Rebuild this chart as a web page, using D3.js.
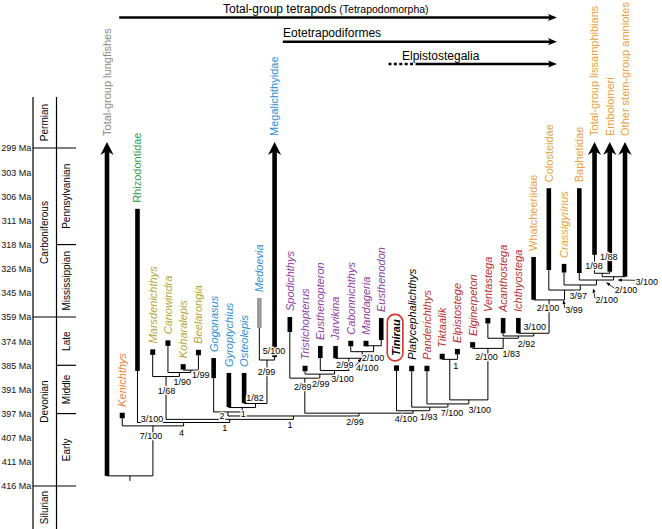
<!DOCTYPE html>
<html>
<head>
<meta charset="utf-8">
<script src="https://cdn.jsdelivr.net/npm/d3@7/dist/d3.min.js"></script>
<style>
html,body{margin:0;padding:0;background:#fff;}
svg{display:block;}
</style>
</head>
<body>
<svg id="chart" width="662" height="529"></svg>
<script>
// ================= DATA =================
const ageTicks = [299,303,306,311,318,326,345,359,374,385,391,397,407,411,416];
const tickLabels = ageTicks.map(a => a + " Ma");

const periodNames = ["Permian","Carboniferous","Devonian","Silurian"];
const periodYoung = [null,299,359,416];
const periodOld   = [299,359,416,null];
const epochNames  = ["Pennsylvanian","Mississippian","Late","Middle","Early"];
const epochYoung  = [299,318,359,385,397];
const epochOld    = [318,359,385,397,416];

const taxonNames = ["Total-group lungfishes","Kenichthys","Rhizodontidae","Marsdenichthys","Canowindra","Koharalepis","Beelarongia","Gogonasus","Gyroptychius","Osteolepis","Medoevia","Megalichthyidae","Spodichthys","Tristichopterus","Eusthenopteron","Jarvikina","Cabonnichthys","Mandageria","Eusthenodon","Tinirau","Platycephalichthys","Panderichthys","Tiktaalik","Elpistostege","Elginerpeton","Ventastega","Acanthostega","Ichthyostega","Whatcheeriidae","Colosteidae","Crassigyrinus","Baphetidae","Total-group lissamphibians","Embolomeri","Other stem-group amniotes"];
const taxonGroup = ["lungfish","basal","rhizodont","canowindrid","canowindrid","canowindrid","canowindrid","osteolepid","osteolepid","osteolepid","osteolepid","osteolepid","tristichopterid","tristichopterid","tristichopterid","tristichopterid","tristichopterid","tristichopterid","tristichopterid","tinirau","plain","elpistostegalian","elpistostegalian","elpistostegalian","elpistostegalian","elpistostegalian","elpistostegalian","elpistostegalian","tetrapod","tetrapod","tetrapod","tetrapod","tetrapod","tetrapod","tetrapod"];
const taxonKind = ["arrow","square","bar","square","square","square","square","bar","bar","bar","grey","arrow","bar","square","bar","bar","square","square","bar","square","square","square","square","square","square","square","bar","bar","bar","bar","bar","bar","arrow","arrow","arrow"];
// youngest / oldest age of each range (Ma); arrows continue beyond 298 Ma
const taxonYoung = [298,397.8,308.6,379.0,374.9,385.4,379.2,381.7,386.9,386.9,348.0,298,359.0,385.8,376.2,376.2,375.1,375.1,359.6,385.7,385.8,385.8,381.0,378.8,375.7,361.3,359.6,359.6,322.1,305.0,324.4,305.0,298,298,298];
const taxonOld   = [413.9,397.8,386.4,379.0,374.9,385.4,379.2,388.2,395.4,394.4,365.8,381.3,368.3,385.8,381.7,381.8,375.1,375.1,373.3,385.7,385.8,385.8,381.0,378.8,375.7,361.3,369.1,369.1,349.0,327.0,329.0,329.4,321.4,328.4,332.3];
const taxonItalic = [0,1,0,1,1,1,1,1,1,1,1,0,1,1,1,1,1,1,1,1,1,1,1,1,1,1,1,1,0,0,1,0,0,0,0];

const nodeIds = ["root","B","C","D","M1","M2","M3","E","F","F2","F3","F4","G","T0","T1","T2","T3","T4","T5","H","H1","H2","H3","P","Q0","Q1","Q2","Q3","Q4","R","S","Ba","Cr","L"];
const nodeChildren = [
  ["Total-group lungfishes","B"],["Kenichthys","C"],["Rhizodontidae","D"],["M1","E"],
  ["Marsdenichthys","M2"],["Canowindra","M3"],["Koharalepis","Beelarongia"],
  ["F","G"],["Gogonasus","F2"],["Gyroptychius","F3"],["Osteolepis","F4"],["Medoevia","Megalichthyidae"],
  ["T0","H"],["Spodichthys","T1"],["Tristichopterus","T2"],["Eusthenopteron","T3"],["Jarvikina","T4"],["Cabonnichthys","T5"],["Mandageria","Eusthenodon"],
  ["Tinirau","H1"],["Platycephalichthys","H2"],["Panderichthys","H3"],["P","Q0"],["Tiktaalik","Elpistostege"],
  ["Elginerpeton","Q1"],["Ventastega","Q2"],["Acanthostega","Q3"],["Ichthyostega","Q4"],["Whatcheeriidae","R"],
  ["Colosteidae","S"],["Crassigyrinus","Ba"],["Baphetidae","Cr"],["L","Other stem-group amniotes"],["Total-group lissamphibians","Embolomeri"]
];
const nodeAge = [413.9,402.1,400.7,399.4,387.8,386.8,386.2,398.0,396.6,395.5,394.5,382.6,396.9,388.2,387.2,386.3,381.8,378.8,376.1,396.3,395.4,394.6,393.6,382.3,377.3,372.2,370.8,369.1,349.1,342.8,338.8,334.9,332.3,329.6];
const nodeSupport = ["","7/100","4","1","1/68","1/90","1/99","1","2","1","1/82","2/99","2/99","2/89","2/99","3/100","2/99","4/100","2/100","4/100","1/93","7/100","3/100","1","2/100","1/83","2/92","3/100","2/100","3/99","3/97","2/100","2/100","3/100"];

const cladeTaxa    = ["Rhizodontidae","Megalichthyidae","Total-group lissamphibians","Embolomeri"];
const cladeSupport = ["3/100","5/100","1/98","1/88"];

const bracketNames = ["Total-group tetrapods","Eotetrapodiformes","Elpistostegalia"];
const bracketSub   = ["(Tetrapodomorpha)","",""];
const bracketFrom  = ["Kenichthys","Spodichthys","Platycephalichthys"];
const bracketDottedFrom = [null,null,"Tinirau"];

// ================= LAYOUT / STYLE =================
const W = 662, H = 529;
const FONT = "'Liberation Sans', Arial, Helvetica, sans-serif";
const groupColor = {
  lungfish:"#8a8a8a", basal:"#e8843c", rhizodont:"#3a9a4c", canowindrid:"#b5a536",
  osteolepid:"#2f8dcf", tristichopterid:"#8c3d9b", tinirau:"#000", plain:"#000",
  elpistostegalian:"#b3322f", tetrapod:"#e6a13d"
};
// support label offsets relative to node (stem x, node y)
const supportOffset = {
  B:[-2,10],C:[-2,10],D:[-5,8.5],M1:[0.5,14],M2:[3,9],M3:[10,5],E:[-3.5,9],F:[-6,3.5],F2:[1,6],F3:[-0.5,-5.5],
  F4:[-0.5,11.5],G:[-4,8.5],T0:[-2,9],T1:[1,10],T2:[8,8],T3:[-4,7],T4:[5,16],T5:[-0.5,12],H:[-7,8],H1:[-1,9.5],
  H2:[4,9],H3:[11,10],P:[6,6],Q0:[-1.5,8],Q1:[8,16],Q2:[8,8],Q3:[1,-6],Q4:[-1,7.5],R:[9.5,20],S:[-2,11],
  Ba:[10.3,20],Cr:[12.4,13.3],L:[44.6,9]
};
const supportArrow = { T4:[-1,7], R:[-1,10.5], Ba:[-3,9], Cr:[-7,6], L:[16.2,6.7] };
const cladeOffset = { "Rhizodontidae":[14.5,-4], "Megalichthyidae":[-0.6,-9], "Total-group lissamphibians":[-0.5,-7], "Embolomeri":[-1,-16] };
const bracketY = [17.5, 41.7, 64];
const bracketStartDx = [-3, -7, 4];
const bracketDotDx = -8;
const bracketTextX = [223, 283, 402];
const bracketTextY = [13, 36.5, 60];
const bracketEnd = 557;

const colTop = 97, colX0 = 33, colX1 = 56.5, colX2 = 76;

// ================= SCALES =================
const svg = d3.select("#chart");
const yPt = d3.scalePoint().domain(ageTicks).range([148, 486]);
const y = d3.scaleLinear().domain(ageTicks).range(ageTicks.map(a => yPt(a)));
const x = d3.scalePoint().domain(taxonNames).range([107, 625]);

svg.append("defs").append("marker")
  .attr("id","ah").attr("viewBox","0 0 10 10").attr("refX",9).attr("refY",5)
  .attr("markerWidth",5).attr("markerHeight",5).attr("orient","auto-start-reverse")
  .append("path").attr("d","M0,1 L10,5 L0,9 Z").attr("fill","#000");

// ================= TIME COLUMN =================
const axisG = svg.append("g").attr("transform",`translate(${colX0},0)`)
  .call(d3.axisLeft(yPt).tickSize(0).tickPadding(1.8).tickFormat((d,i)=>tickLabels[i]));
axisG.select(".domain").remove();
axisG.selectAll("text").attr("font-family",FONT).attr("font-size",9).attr("fill","#111");

const col = svg.append("g").attr("stroke","#000").attr("stroke-width",1.2);
[colX0, colX1].forEach(cx => col.append("line").attr("x1",cx).attr("x2",cx).attr("y1",colTop).attr("y2",H));
[299,359,416].forEach(a => col.append("line").attr("x1",colX0).attr("x2",colX2).attr("y1",y(a)).attr("y2",y(a)));
[318,385,397].forEach(a => col.append("line").attr("x1",colX1).attr("x2",colX2).attr("y1",y(a)).attr("y2",y(a)));

periodNames.forEach((n,i) => {
  const y0 = periodYoung[i] == null ? colTop : y(periodYoung[i]);
  const y1 = periodOld[i] == null ? H : y(periodOld[i]);
  svg.append("text").attr("transform",`translate(${(colX0+colX1)/2+3.5},${(y0+y1)/2}) rotate(-90)`)
    .attr("text-anchor","middle").attr("font-family",FONT).attr("font-size",10).text(n);
});
epochNames.forEach((n,i) => {
  const y0 = y(epochYoung[i]), y1 = y(epochOld[i]);
  svg.append("text").attr("transform",`translate(${(colX1+colX2)/2+3.5},${(y0+y1)/2}) rotate(-90)`)
    .attr("text-anchor","middle").attr("font-family",FONT).attr("font-size",10).text(n);
});

// ================= TREE GEOMETRY =================
const taxonIdx = new Map(taxonNames.map((n,i)=>[n,i]));
const nodes = new Map(nodeIds.map((id,i)=>[id,{id, children:nodeChildren[i], age:nodeAge[i], support:nodeSupport[i]}]));
function posX(name){
  if (taxonIdx.has(name)) return x(name);
  const n = nodes.get(name);
  if (n.x == null){ const xs = n.children.map(posX); n.x = (d3.min(xs)+d3.max(xs))/2; }
  return n.x;
}
function bottomY(name){
  if (taxonIdx.has(name)){
    const i = taxonIdx.get(name);
    return taxonKind[i]==="square" ? y(taxonOld[i]) + 2.75 : y(taxonOld[i]);
  }
  return y(nodes.get(name).age);
}
nodeIds.forEach(posX);

const lines = svg.append("g").attr("stroke","#000").attr("stroke-width",1).attr("fill","none");
nodes.forEach(n => {
  const ny = y(n.age);
  const xs = n.children.map(posX);
  lines.append("line").attr("x1",d3.min(xs)).attr("x2",d3.max(xs)).attr("y1",ny).attr("y2",ny);
  n.children.forEach(c => {
    const cx = posX(c), by = bottomY(c);
    if (ny - by > 0.3) lines.append("line").attr("x1",cx).attr("x2",cx).attr("y1",by).attr("y2",ny);
  });
});
const root = nodes.get("root");
lines.append("line").attr("x1",root.x).attr("x2",root.x).attr("y1",y(root.age)).attr("y2",y(root.age)+5);

// ================= RANGE BARS =================
const bars = svg.append("g");
taxonNames.forEach((name,i) => {
  const cx = x(name), k = taxonKind[i];
  if (k === "square"){
    bars.append("rect").attr("x",cx-2.5).attr("y",y(taxonYoung[i])-2.75).attr("width",5).attr("height",5.5).attr("fill","#000");
  } else if (k === "bar" || k === "grey"){
    bars.append("rect").attr("x",cx-2.3).attr("y",y(taxonYoung[i])).attr("width",4.6)
      .attr("height",y(taxonOld[i])-y(taxonYoung[i])).attr("fill",k==="grey"?"#9a9a9a":"#000");
  } else {
    const tip = y(taxonYoung[i]);
    bars.append("rect").attr("x",cx-2.3).attr("y",tip+8).attr("width",4.6).attr("height",y(taxonOld[i])-tip-8).attr("fill","#000");
    bars.append("path").attr("d",`M${cx},${tip} L${cx+6.6},${tip+13} L${cx},${tip+9} L${cx-6.6},${tip+13} Z`).attr("fill","#000");
  }
});

// ================= TAXON LABELS =================
const labs = svg.append("g").attr("font-family",FONT).attr("font-size",11);
taxonNames.forEach((name,i) => {
  const cx = x(name), k = taxonKind[i];
  const top = k==="square" ? y(taxonYoung[i])-2.75 : y(taxonYoung[i]);
  const col = groupColor[taxonGroup[i]];
  if (taxonGroup[i] === "tinirau"){
    const base = top - 9.5;
    const t = labs.append("text").attr("transform",`translate(${cx+3.8},${base}) rotate(-90)`)
      .attr("font-style","italic").attr("font-weight","bold").attr("fill",col).text(name);
    const len = t.node().getComputedTextLength();
    labs.insert("rect","text").attr("x",cx-9.2).attr("y",base-len-5).attr("width",15.6).attr("height",len+10)
      .attr("rx",7.5).attr("ry",7.5).attr("fill","#fff").attr("stroke","#d8302a").attr("stroke-width",1.6);
  } else {
    labs.append("text").attr("transform",`translate(${cx+3.9},${top-6}) rotate(-90)`)
      .attr("font-style",taxonItalic[i]?"italic":"normal").attr("fill",col).text(name);
  }
});

// ================= SUPPORT LABELS =================
const sup = svg.append("g").attr("font-family",FONT).attr("font-size",9);
function supLabel(px,py,txt){
  return sup.append("text").attr("x",px).attr("y",py).attr("dy","0.35em").attr("text-anchor","middle")
    .attr("stroke","#fff").attr("stroke-width",2.4).attr("paint-order","stroke").attr("fill","#000").text(txt);
}
nodes.forEach(n => {
  if (!n.support) return;
  const off = supportOffset[n.id] || [0,8];
  const ny = y(n.age);
  const lx = n.x + off[0], ly = ny + off[1];
  const t = supLabel(lx, ly, n.support);
  if (supportArrow[n.id]){
    const w = t.node().getComputedTextLength();
    const tg = supportArrow[n.id];
    const tx = n.x + tg[0], ty = ny + tg[1];
    sup.append("line").attr("x1",lx - w/2 - 0.5).attr("y1",ly - 2).attr("x2",tx).attr("y2",ty)
      .attr("stroke","#000").attr("stroke-width",0.8).attr("marker-end","url(#ah)");
  }
});
cladeTaxa.forEach((name,i) => {
  const parent = [...nodes.values()].find(n => n.children.includes(name));
  const off = cladeOffset[name];
  supLabel(x(name)+off[0], y(parent.age)+off[1], cladeSupport[i]);
});

// ================= CLADE BRACKETS (top) =================
const br = svg.append("g");
bracketNames.forEach((n,i) => {
  const yy = bracketY[i];
  const x0 = x(bracketFrom[i]) + bracketStartDx[i];
  if (bracketDottedFrom[i]){
    const xd = x(bracketDottedFrom[i]) + bracketDotDx;
    br.append("line").attr("x1",xd).attr("x2",x0).attr("y1",yy).attr("y2",yy)
      .attr("stroke","#000").attr("stroke-width",2.6).attr("stroke-dasharray","3,2.4");
  }
  br.append("line").attr("x1",x0).attr("x2",bracketEnd-6).attr("y1",yy).attr("y2",yy)
    .attr("stroke","#000").attr("stroke-width",2.6);
  br.append("path").attr("d",`M${bracketEnd},${yy} L${bracketEnd-9},${yy-3.6} L${bracketEnd-7},${yy} L${bracketEnd-9},${yy+3.6} Z`).attr("fill","#000");
  const t = br.append("text").attr("x",bracketTextX[i]).attr("y",bracketTextY[i])
    .attr("font-family",FONT).attr("font-size",12).attr("fill","#000").text(n);
  if (bracketSub[i]) t.append("tspan").attr("font-size",10.5).text(" " + bracketSub[i]);
});
</script>
</body>
</html>
